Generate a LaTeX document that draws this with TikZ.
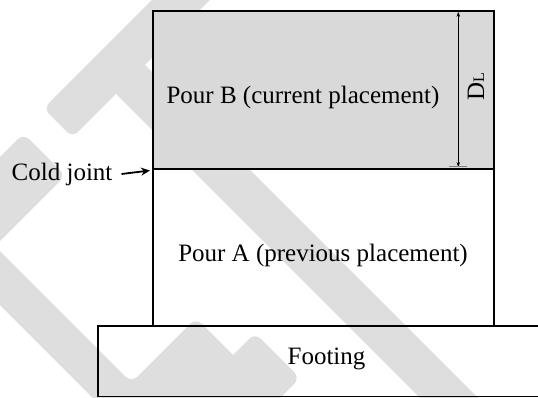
\documentclass[tikz,border=0pt]{standalone}
\usepackage{fontspec}
\setmainfont{Liberation Serif}
\usetikzlibrary{arrows.meta}
\definecolor{wmgray}{HTML}{DEDEDE}
\definecolor{fillB}{HTML}{D9D9D9}
\tikzset{
  wm/.style={fill=wmgray, rounded corners=8pt},
  box/.style={draw=black, line width=1.6pt},
  lbl/.style={font=\fontsize{25}{27}\selectfont, inner sep=0pt},
  dim/.style={line width=0.6pt, {Stealth[length=5pt,width=3.5pt]}-{Stealth[length=5pt,width=3.5pt]}},
  cjarrow/.style={line width=1.8pt, -{Stealth[length=9pt,width=8pt]}}
}
\begin{document}
\begin{tikzpicture}[x=1pt,y=-1pt]
\useasboundingbox (0,0) rectangle (538,398);
% watermark bands
\begin{scope}
\clip (0,0) rectangle (538,398);
\fill[wm] (206,-54) -- (43.5,108.5) -- (72.5,137.5) -- (235,-25) -- cycle;
\fill[wm] (130,50) -- (101,79) -- (511,489) -- (540,460) -- cycle;
\fill[wm] (23.5,133.5) -- (65.5,175.5) -- (-79.5,320.5) -- (-121.5,278.5) -- cycle;
\fill[wm] (-175.5,75.5) -- (131.5,382.5) -- (196,318) -- (238,360) -- (146.5,451.5) -- (-202.5,102.5) -- cycle;
\fill[wm] (255,333) -- (300,378) -- (139,539) -- (94,494) -- cycle;
\end{scope}
% boxes
\draw[box, fill=fillB] (153,11) rectangle (494,169);
\draw[box] (153,169) rectangle (494,326);
\draw[box] (98,326) rectangle (560,396.5);
\draw[line width=2.2pt] (153,169) -- (494,169);
% labels
\node[lbl, anchor=base] (pourB) at (303,103.5) {Pour B (current placement)};
\node[lbl, anchor=base] (pourA) at (323,261.7) {Pour A (previous placement)};
\node[lbl, anchor=base] (footing) at (326.5,364.7) {Footing};
\node[lbl, anchor=base west] (cold) at (11.5,181) {Cold joint};
\coordinate (cjs) at (121.5,174);
\coordinate (cje) at (150,170.5);
\draw[cjarrow] (cjs) -- (cje);
% dimension D_L
\coordinate (dtop) at (458.3,11.8);
\coordinate (dbot) at (458.3,167);
\draw[dim] (dtop) -- (dbot);
\draw[line width=0.6pt, gray] (449,166.5) -- (467,166.5);
\node[lbl, rotate=90] (DL) at (476,87) {D{\fontsize{16}{16}\selectfont L}};
\end{tikzpicture}
\end{document}
